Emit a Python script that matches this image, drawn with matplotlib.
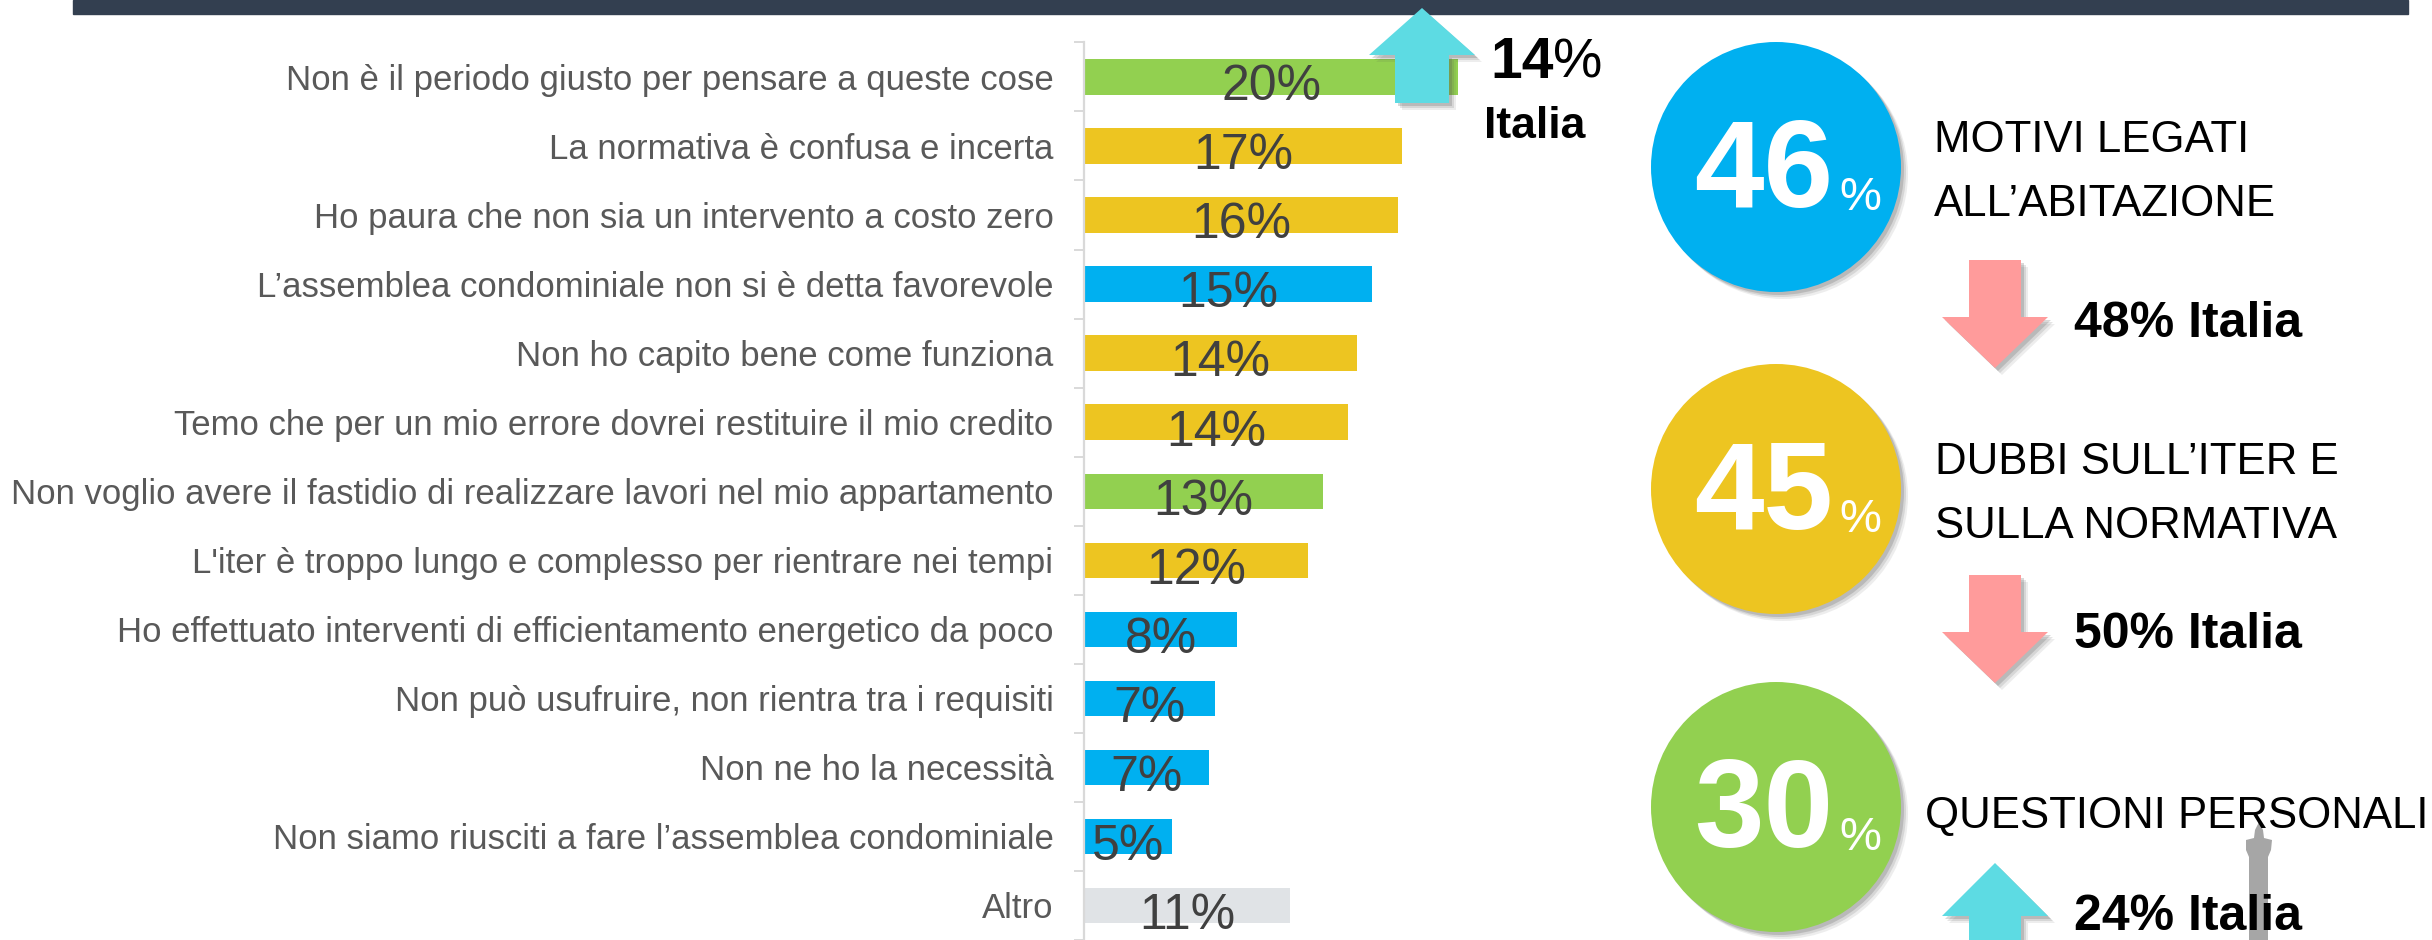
import numpy as np
import matplotlib
matplotlib.use("Agg")
from matplotlib import pyplot as plt
from matplotlib.patches import Circle, Polygon, Rectangle

# data
categories = [
    "Non è il periodo giusto per pensare a queste cose",
    "La normativa è confusa e incerta",
    "Ho paura che non sia un intervento a costo zero",
    "L’assemblea condominiale non si è detta favorevole",
    "Non ho capito bene come funziona",
    "Temo che per un mio errore dovrei restituire il mio credito",
    "Non voglio avere il fastidio di realizzare lavori nel mio appartamento",
    "L'iter è troppo lungo e complesso per rientrare nei tempi",
    "Ho effettuato interventi di efficientamento energetico da poco",
    "Non può usufruire, non rientra tra i requisiti",
    "Non ne ho la necessità",
    "Non siamo riusciti a fare l’assemblea condominiale",
    "Altro",
]
values = [20.0, 17.0, 16.8, 15.4, 14.6, 14.1, 12.8, 12.0, 8.2, 7.0, 6.7, 4.7, 11.0]
value_labels = ["20%", "17%", "16%", "15%", "14%", "14%", "13%", "12%",
                "8%", "7%", "7%", "5%", "11%"]
groups = ["personali", "iter", "iter", "abitazione", "iter", "iter", "personali",
          "iter", "abitazione", "abitazione", "abitazione", "abitazione", "altro"]

summary_pct = [46, 45, 30]
summary_titles = [["MOTIVI LEGATI", "ALL’ABITAZIONE"],
                  ["DUBBI SULL’ITER E", "SULLA NORMATIVA"],
                  ["QUESTIONI PERSONALI"]]
summary_groups = ["abitazione", "iter", "personali"]
italia_pct = [48, 50, 24]
italia_trend = ["down", "down", "up"]
top_italia_pct = 14

group_colors = {"personali": "#92D050", "iter": "#EDC521",
                "abitazione": "#00B0F0", "altro": "#E0E3E6"}
UP = "#5DDBE3"
DOWN = "#FF9B9B"

W, H = 2432, 940
fig = plt.figure(figsize=(W / 100, H / 100), dpi=100)

# ---- bar chart ----
px_per_pct = 18.7
row_h = 69.25
top_px = 42.4
ax = fig.add_axes([1084 / W, 0, 25 * px_per_pct / W, (H - top_px) / H])
n = len(categories)
y = np.arange(n)
ax.barh(y, values, height=35.5 / row_h,
        color=[group_colors[g] for g in groups], zorder=2)
for i, (v, lab) in enumerate(zip(values, value_labels)):
    ax.text(v / 2, i + 0.15, lab, ha="center", va="center",
            fontsize=36, color="#404040", family="Liberation Sans", zorder=3)
ax.set_xlim(0, 25)
ax.set_ylim(-0.5 + (H - top_px) / row_h, -0.5)
ax.set_yticks(y)
ax.set_yticklabels(categories, fontsize=25, color="#595959",
                   family="Liberation Sans")
ax.set_yticks(np.arange(-0.5, n, 1), minor=True)
ax.tick_params(axis="y", which="major", length=0, pad=22)
ax.tick_params(axis="y", which="minor", length=7.5, width=1.4,
               color="#D9D9D9")
ax.set_xticks([])
for s in ["top", "right", "bottom"]:
    ax.spines[s].set_visible(False)
ax.spines["left"].set_color("#D9D9D9")
ax.spines["left"].set_linewidth(1.6)
ax.patch.set_visible(False)

# ---- overlay in pixel coordinates ----
ov = fig.add_axes([0, 0, 1, 1], zorder=5)
ov.set_xlim(0, W)
ov.set_ylim(H, 0)
ov.axis("off")
ov.patch.set_visible(False)

ov.add_patch(Rectangle((73, 0), 2335, 13.5, color="#333F50"))


def arrow(cx, tip, base, end, head, shaft, color):
    pts = [(cx, tip), (cx + head, base), (cx + shaft, base), (cx + shaft, end),
           (cx - shaft, end), (cx - shaft, base), (cx - head, base)]
    for k, a in enumerate([0.10, 0.15, 0.22]):
        d = 7 - 2 * k
        ov.add_patch(Polygon([(px + d, py + d) for px, py in pts],
                             color="#555555", alpha=a, lw=0))
    ov.add_patch(Polygon(pts, color=color, lw=0))


# top arrow next to the first bar
arrow(1422, 8, 55, 103, 53, 27, UP)
ov.text(1490, 78, str(top_italia_pct), fontsize=41, fontweight="bold",
        family="Liberation Sans", va="baseline", ha="left")
ov.text(1553, 78, "%", fontsize=40, family="Liberation Sans",
        va="baseline", ha="left")
ov.text(1484, 138, "Italia", fontsize=32, fontweight="bold",
        family="Liberation Sans", va="baseline", ha="left")

# tower silhouette behind the last block
tower = [(2259, 822), (2263, 830), (2264, 838), (2272, 840), (2271, 850),
         (2268, 857), (2268, 960), (2249, 960), (2249, 857), (2246, 850),
         (2246, 840), (2254, 838), (2255, 830)]
ov.add_patch(Polygon(tower, color="#A6A6A6", lw=0, zorder=1))

cx = 1776
circle_y = [167, 489, 807]
title_x = [1934, 1935, 1925]
italia_base = [337, 648, 930]
arrow_geom = [(368, 317, 260), (683, 632, 575), (863, 916, 960)]
for k in range(3):
    cy = circle_y[k]
    for j, a in enumerate([0.10, 0.15, 0.22]):
        d = 7 - 2 * j
        ov.add_patch(Circle((cx + d, cy + d), 125, color="#555555",
                            alpha=a, lw=0))
    ov.add_patch(Circle((cx, cy), 125, color=group_colors[summary_groups[k]],
                        lw=0))
    ov.text(cx + 57, cy + 40, str(summary_pct[k]), color="white",
            fontsize=90, fontweight="bold", family="Liberation Sans",
            ha="right", va="baseline", zorder=3)
    ov.text(cx + 63, cy + 43, "%", color="white", fontsize=34,
            family="Liberation Sans", ha="left", va="baseline", zorder=3)
    lines = summary_titles[k]
    if len(lines) == 2:
        bases = [cy - 15, cy + 49]
    else:
        bases = [cy + 21]
    for line, b in zip(lines, bases):
        ov.text(title_x[k], b, line, fontsize=31.5, family="Liberation Sans",
                ha="left", va="baseline", zorder=3)
    tip, base, end = arrow_geom[k]
    arrow(1995, tip, base, end, 53, 26,
          DOWN if italia_trend[k] == "down" else UP)
    ov.text(2074, italia_base[k], f"{italia_pct[k]}% Italia", fontsize=36,
            fontweight="bold", family="Liberation Sans", ha="left",
            va="baseline", zorder=3)

fig.savefig("out.png", dpi=100)
